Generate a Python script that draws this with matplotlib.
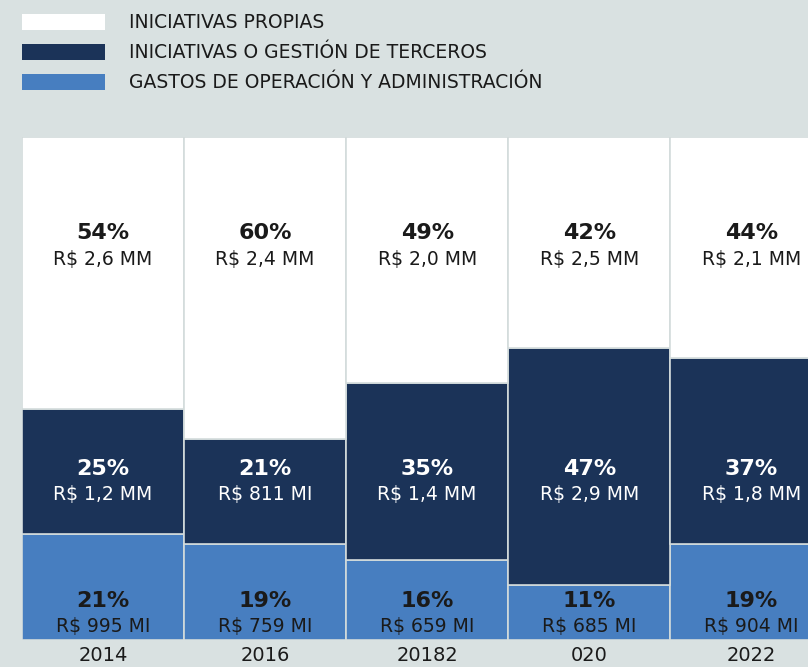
import matplotlib.pyplot as plt
from matplotlib.patches import Rectangle

years = ["2014", "2016", "20182", "020", "2022"]
series = ["INICIATIVAS PROPIAS", "INICIATIVAS O GESTIÓN DE TERCEROS",
          "GASTOS DE OPERACIÓN Y ADMINISTRACIÓN"]
gastos = [21, 19, 16, 11, 19]
terceros = [25, 21, 35, 47, 37]
propias = [54, 60, 49, 42, 44]
gastos_txt = ["R$ 995 MI", "R$ 759 MI", "R$ 659 MI", "R$ 685 MI", "R$ 904 MI"]
terceros_txt = ["R$ 1,2 MM", "R$ 811 MI", "R$ 1,4 MM", "R$ 2,9 MM", "R$ 1,8 MM"]
propias_txt = ["R$ 2,6 MM", "R$ 2,4 MM", "R$ 2,0 MM", "R$ 2,5 MM", "R$ 2,1 MM"]

bg = "#d9e1e1"
navy = "#1b3358"
blue = "#477ec0"
white = "#ffffff"
edge = "#d3dbdb"

fig = plt.figure(figsize=(8.08, 6.67), dpi=100, facecolor=bg)
W, H = 808, 667

# legend drawn by hand in pixel coords
for i, (lab, col) in enumerate(zip(series, [white, navy, blue])):
    y = 22 + i * 30
    fig.patches.append(Rectangle((22 / W, 1 - (y + 8) / H), 83 / W, 16 / H,
                                 transform=fig.transFigure, facecolor=col,
                                 edgecolor="none"))
    fig.text(129 / W, 1 - y / H, lab, fontsize=13.5, color="#1a1a1a",
             va="center", ha="left")

ax = fig.add_axes([22 / W, 27 / H, 1 - 22 / W, 503 / H])
ax.set_facecolor(bg)
x = list(range(len(years)))
ax.bar(x, gastos, width=1.0, color=blue, edgecolor=edge, linewidth=1.2)
ax.bar(x, terceros, width=1.0, bottom=gastos, color=navy, edgecolor=edge,
       linewidth=1.2)
bot2 = [g + t for g, t in zip(gastos, terceros)]
ax.bar(x, propias, width=1.0, bottom=bot2, color=white, edgecolor=edge,
       linewidth=1.2)

for i in x:
    ax.text(i, 80.9, f"{propias[i]}%", ha="center", va="center",
            fontsize=16, fontweight="bold", color="#1a1a1a")
    ax.text(i, 75.6, propias_txt[i], ha="center", va="center",
            fontsize=13.5, color="#1a1a1a")
    ax.text(i, 34.0, f"{terceros[i]}%", ha="center", va="center",
            fontsize=16, fontweight="bold", color="white")
    ax.text(i, 28.9, terceros_txt[i], ha="center", va="center",
            fontsize=13.5, color="white")
    ax.text(i, 7.7, f"{gastos[i]}%", ha="center", va="center",
            fontsize=16, fontweight="bold", color="#1a1a1a")
    ax.text(i, 2.7, gastos_txt[i], ha="center", va="center",
            fontsize=13.5, color="#1a1a1a")

ax.set_xlim(-0.5, 4.35)
ax.set_ylim(0, 100)
ax.set_yticks([])
ax.set_xticks(x)
ax.set_xticklabels(years, fontsize=14, color="#1a1a1a",
                   family=["Liberation Sans Narrow", "DejaVu Sans"])
ax.tick_params(axis="x", length=0, pad=4)
for s in ax.spines.values():
    s.set_visible(False)

fig.savefig("out.png", dpi=100, facecolor=bg)
